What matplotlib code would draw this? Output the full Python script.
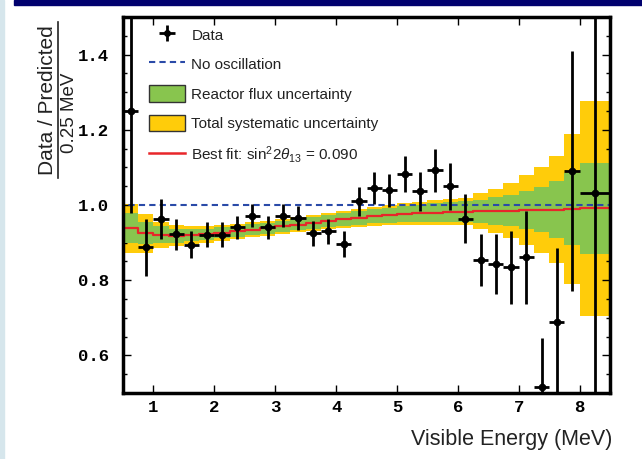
import numpy as np
import matplotlib
matplotlib.use("Agg")
import matplotlib.pyplot as plt
from matplotlib.patches import Patch, Rectangle
from matplotlib.lines import Line2D
from matplotlib.ticker import MultipleLocator

# ---------------- data ----------------
bin_edges = [0.5, 0.75, 1.0, 1.25, 1.5, 1.75, 2.0, 2.25, 2.5, 2.75, 3.0, 3.25,
             3.5, 3.75, 4.0, 4.25, 4.5, 4.75, 5.0, 5.25, 5.5, 5.75, 6.0, 6.25,
             6.5, 6.75, 7.0, 7.25, 7.5, 7.75, 8.0, 8.5]
energy = [0.625, 0.875, 1.125, 1.375, 1.625, 1.875, 2.125, 2.375, 2.625, 2.875,
          3.125, 3.375, 3.625, 3.875, 4.125, 4.375, 4.625, 4.875, 5.125, 5.375,
          5.625, 5.875, 6.125, 6.375, 6.625, 6.875, 7.125, 7.375, 7.625, 7.875, 8.25]
energy_halfwidth = [0.125] * 30 + [0.25]
ratio = [1.25, 0.887, 0.962, 0.922, 0.894, 0.921, 0.921, 0.941, 0.972, 0.941,
         0.972, 0.965, 0.925, 0.930, 0.896, 1.010, 1.045, 1.039, 1.083, 1.036,
         1.092, 1.050, 0.963, 0.854, 0.844, 0.835, 0.861, 0.516, 0.688, 1.090, 1.032]
ratio_err = [0.27, 0.077, 0.053, 0.041, 0.036, 0.034, 0.033, 0.031, 0.031, 0.031,
             0.031, 0.032, 0.033, 0.033, 0.034, 0.039, 0.042, 0.043, 0.048, 0.052,
             0.057, 0.063, 0.065, 0.070, 0.080, 0.097, 0.123, 0.131, 0.197, 0.320, 0.60]
best_fit = [0.938, 0.925, 0.921, 0.918, 0.919, 0.922, 0.926, 0.930, 0.934, 0.938,
            0.943, 0.948, 0.953, 0.958, 0.962, 0.966, 0.970, 0.973, 0.976, 0.978,
            0.980, 0.981, 0.982, 0.983, 0.984, 0.985, 0.986, 0.987, 0.988, 0.989, 0.991]
flux_err = [0.040, 0.030, 0.022, 0.018, 0.016, 0.015, 0.015, 0.015, 0.015, 0.015,
            0.015, 0.015, 0.016, 0.016, 0.017, 0.018, 0.019, 0.020, 0.021, 0.023,
            0.025, 0.027, 0.028, 0.031, 0.036, 0.042, 0.050, 0.060, 0.075, 0.095, 0.122]
syst_err = [0.065, 0.052, 0.035, 0.028, 0.024, 0.022, 0.021, 0.020, 0.020, 0.020,
            0.020, 0.021, 0.021, 0.022, 0.023, 0.024, 0.026, 0.027, 0.029, 0.031,
            0.033, 0.035, 0.036, 0.048, 0.058, 0.074, 0.093, 0.115, 0.143, 0.200, 0.285]
no_osc = 1.0
legend_labels = ["Data", "No oscillation", "Reactor flux uncertainty",
                 "Total systematic uncertainty",
                 r"Best fit: sin$^{2}$2$\theta_{13}$ = 0.090"]

# ---------------- styling ----------------
W, H = 642, 459
plt.rcParams['font.family'] = ['Liberation Sans', 'DejaVu Sans']
plt.rcParams['mathtext.fontset'] = 'custom'
plt.rcParams['mathtext.rm'] = 'Liberation Sans'
plt.rcParams['mathtext.it'] = 'Liberation Sans:italic'
plt.rcParams['mathtext.sf'] = 'Liberation Sans'

YELLOW = '#ffcc0a'
GREEN = '#88c54e'
RED = '#e8262a'
BLUE = '#2a4aa8'

fig = plt.figure(figsize=(W / 100, H / 100), dpi=100)
# slide decorations
fig.patches.append(Rectangle((14 / W, 1 - 5 / H), 1 - 14 / W, 5 / H,
                             transform=fig.transFigure, color='#00006e', zorder=0))
fig.patches.append(Rectangle((0, 0), 4 / W, 1, transform=fig.transFigure,
                             color='#d6e6ec', zorder=0))

ax = fig.add_axes([123 / W, 66 / H, 487 / W, 376 / H])

edges = np.array(bin_edges)
fit = np.array(best_fit)
fe = np.array(flux_err)
se = np.array(syst_err)
fit_s = np.append(fit, fit[-1])
fe_s = np.append(fe, fe[-1])
se_s = np.append(se, se[-1])

ax.fill_between(edges, fit_s - se_s, fit_s + se_s, step='post', color=YELLOW,
                lw=0, zorder=1)
ax.fill_between(edges, fit_s - fe_s, fit_s + fe_s, step='post', color=GREEN,
                lw=0, zorder=2)
# best fit histogram (with drop at the left edge)
ax.step(np.concatenate([[edges[0]], edges]), np.concatenate([[0], fit_s]),
        where='post', color=RED, lw=1.6, zorder=3)
ax.plot([edges[0], edges[0], edges[-1]], [0, no_osc, no_osc], color=BLUE,
        lw=1.5, ls=(0, (3, 2)), zorder=4)

ax.errorbar(energy, ratio, yerr=ratio_err, xerr=energy_halfwidth, fmt='o',
            color='black', ms=4.5, elinewidth=2.0, capsize=0, zorder=5)

ax.set_xlim(0.5, 8.5)
ax.set_ylim(0.5, 1.5)
ax.xaxis.set_major_locator(MultipleLocator(1))
ax.yaxis.set_minor_locator(MultipleLocator(0.05))
ax.set_yticks([0.6, 0.8, 1.0, 1.2, 1.4])
ax.tick_params(which='both', direction='in', top=True, right=True, width=1,
               colors='black')
ax.tick_params(which='major', length=6)
ax.tick_params(which='minor', length=3)
ax.tick_params(axis='y', pad=10)
ax.tick_params(axis='x', pad=5)
for sp in ax.spines.values():
    sp.set_linewidth(2.5)
    sp.set_zorder(6)

ax.set_yticklabels(['0.6', '0.8', '1.0', '1.2', '1.4'])
for lab in ax.get_xticklabels() + ax.get_yticklabels():
    lab.set_fontfamily('Liberation Mono')
    lab.set_fontweight('bold')
    lab.set_fontsize(12.5)

# x label (right aligned)
fig.text(612 / W, 1 - 440 / H, 'Visible Energy (MeV)', ha='right', va='center',
         fontsize=15.5, color='#222222')

# y label as a fraction
fig.text(48 / W, 1 - 100 / H, 'Data / Predicted', rotation=90, ha='center',
         va='center', fontsize=15, color='#222222')
fig.add_artist(Line2D([58 / W, 58 / W], [1 - 178 / H, 1 - 22 / H],
                      transform=fig.transFigure, color='#222222', lw=1.2))
fig.text(70 / W, 1 - 113 / H, '0.25 MeV', rotation=90, ha='center',
         va='center', fontsize=13.5, color='#222222')

# legend
h_data = ax.errorbar([], [], yerr=[], xerr=[], fmt='o', color='black', ms=4,
                     elinewidth=2, capsize=0)
h_no = Line2D([], [], color=BLUE, lw=1.5, ls=(0, (3, 2)))
h_flux = Patch(facecolor=GREEN, edgecolor='#333333', lw=1)
h_syst = Patch(facecolor=YELLOW, edgecolor='#333333', lw=1)
h_fit = Line2D([], [], color=RED, lw=1.8)
leg = ax.legend([h_data, h_no, h_flux, h_syst, h_fit], legend_labels,
                loc='upper left', bbox_to_anchor=(0.026, 1.012), frameon=False,
                fontsize=11, handlelength=2.3, handleheight=1.3,
                labelspacing=0.84, handletextpad=0.45)
for t in leg.get_texts():
    t.set_color('#222222')

fig.savefig('out.png', dpi=100)
